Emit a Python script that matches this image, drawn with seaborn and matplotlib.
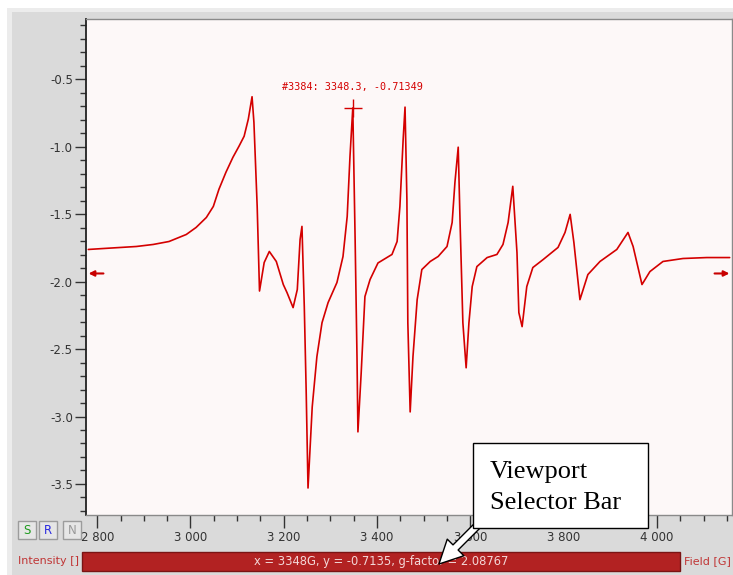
import numpy as np
import pandas as pd
import seaborn as sns
import matplotlib.pyplot as plt
import matplotlib.transforms as mtransforms
from matplotlib.patches import Rectangle, FancyArrowPatch, ArrowStyle
from matplotlib.ticker import MultipleLocator, FuncFormatter

### Spectrum (field in G, intensity)
field = [2781, 2813, 2884, 2920, 2954, 2991, 3012, 3034, 3049, 3061,
         3076, 3091, 3104, 3115, 3124, 3132, 3136, 3143, 3148, 3158,
         3169, 3184, 3199, 3207, 3220, 3229, 3235, 3239, 3244, 3248,
         3252, 3261, 3271, 3282, 3295, 3314, 3327, 3336, 3342, 3348,
         3353, 3357, 3359, 3366, 3374, 3385, 3402, 3432, 3443, 3449,
         3456, 3460, 3464, 3466, 3471, 3477, 3486, 3496, 3514, 3531,
         3550, 3561, 3567, 3574, 3578, 3584, 3591, 3597, 3604, 3614,
         3636, 3657, 3670, 3681, 3691, 3700, 3704, 3711, 3721, 3734,
         3756, 3788, 3803, 3814, 3822, 3835, 3852, 3878, 3914, 3938,
         3949, 3968, 3985, 4013, 4056, 4107, 4156]
intensity = [-1.762, -1.755, -1.740, -1.725, -1.703, -1.651, -1.599, -1.525, -1.443, -1.316,
             -1.190, -1.079, -0.997, -0.923, -0.796, -0.630, -0.819, -1.443, -2.070, -1.859,
             -1.777, -1.851, -2.022, -2.082, -2.193, -2.059, -1.688, -1.591, -2.186, -2.802,
             -3.530, -2.929, -2.557, -2.305, -2.156, -2.007, -1.814, -1.517, -1.071, -0.713,
             -1.688, -2.557, -3.114, -2.676, -2.111, -1.985, -1.862, -1.799, -1.703, -1.443,
             -0.945, -0.707, -1.391, -2.305, -2.966, -2.557, -2.134, -1.911, -1.851, -1.814,
             -1.740, -1.562, -1.264, -1.004, -1.562, -2.305, -2.639, -2.305, -2.037, -1.889,
             -1.822, -1.799, -1.725, -1.562, -1.294, -1.785, -2.230, -2.334, -2.037, -1.896,
             -1.837, -1.747, -1.636, -1.502, -1.710, -2.134, -1.948, -1.851, -1.762, -1.636,
             -1.740, -2.022, -1.926, -1.851, -1.829, -1.822, -1.822]

## Cursor readout and status bar
cursor_index = 3384
cursor_field = 3348.3
cursor_value = -0.71349
status_text = "x = 3348G, y = -0.7135, g-factor = 2.08767"
x_label = "Field [G]"
y_label = "Intensity []"
callout_lines = ["Viewport", "Selector Bar"]
baseline_level = -1.94

W, H = 733, 575
def fx(px):
    return px / W
def fy(py):
    return 1 - py / H

sns.set_style("white")
plt.rcParams['font.family'] = ['DejaVu Sans']
plt.rcParams['axes.unicode_minus'] = False

fig = plt.figure(figsize=(W / 100, H / 100), dpi=100, facecolor='#dadada')

## window frame
fig.add_artist(Rectangle((0, fy(8)), 1, 1 - fy(8), transform=fig.transFigure,
                         facecolor='white', edgecolor='none', zorder=0))
fig.add_artist(Rectangle((0, 0), fx(7), 1, transform=fig.transFigure,
                         facecolor='white', edgecolor='none', zorder=0))
fig.add_artist(Rectangle((fx(7), fy(12)), 1, fy(8) - fy(12), transform=fig.transFigure,
                         facecolor='#ececec', edgecolor='none', zorder=0))
fig.add_artist(Rectangle((fx(7), 0), fx(5), fy(8), transform=fig.transFigure,
                         facecolor='#ececec', edgecolor='none', zorder=0))

## main plot
ax = fig.add_axes([fx(86), fy(515), fx(732) - fx(86), fy(19) - fy(515)])
ax.set_facecolor('#fdf8f8')
sns.lineplot(x=field, y=intensity, ax=ax, color='#d40000', lw=1.2,
             estimator=None, sort=False)
ax.set_xlim(2776, 4161)
ax.set_ylim(-3.73, -0.054)
ax.set_xlabel('')
ax.set_ylabel('')

for side in ['top', 'right', 'bottom']:
    ax.spines[side].set_color('#8a8a8a')
    ax.spines[side].set_linewidth(1.0)
ax.spines['left'].set_color('#222222')
ax.spines['left'].set_linewidth(1.3)

ax.xaxis.set_major_locator(MultipleLocator(200))
ax.xaxis.set_minor_locator(MultipleLocator(50))
ax.xaxis.set_major_formatter(FuncFormatter(lambda v, p: f"{int(v):,}".replace(',', ' ')))
ax.yaxis.set_major_locator(MultipleLocator(0.5))
ax.yaxis.set_minor_locator(MultipleLocator(0.1))
ax.yaxis.set_major_formatter(FuncFormatter(lambda v, p: f"{v:.1f}"))

ax.tick_params(axis='both', which='both', direction='out', color='#333333', width=1,
               labelsize=8.5, labelcolor='#333333')
ax.tick_params(axis='y', which='major', length=8, pad=1.5, left=True)
ax.tick_params(axis='y', which='minor', length=4.3, left=True)
ax.tick_params(axis='x', which='major', length=9, pad=2.5, bottom=True)
ax.tick_params(axis='x', which='minor', length=4.5, bottom=True)

## cursor marker and readout
ax.plot([cursor_field], [cursor_value], marker='+', ms=13, mew=1, color='#d40000')
ax.annotate(f"#{cursor_index}: {cursor_field}, {cursor_value}",
            xy=(cursor_field, cursor_value), xytext=(0, 21), textcoords='offset pixels',
            ha='center', va='center', fontsize=7.3, color='#d40000',
            family='DejaVu Sans Mono')

## baseline arrows at both edges
trans = mtransforms.blended_transform_factory(ax.transAxes, ax.transData)
ax.annotate('', xy=(0.004, baseline_level), xytext=(0.027, baseline_level), xycoords=trans,
            textcoords=trans,
            arrowprops=dict(arrowstyle='-|>', color='#c80000', lw=1.5, mutation_scale=8,
                            shrinkA=0, shrinkB=0))
ax.annotate('', xy=(0.996, baseline_level), xytext=(0.973, baseline_level), xycoords=trans,
            textcoords=trans,
            arrowprops=dict(arrowstyle='-|>', color='#c80000', lw=1.5, mutation_scale=8,
                            shrinkA=0, shrinkB=0))

## S / R / N buttons
buttons = [("S", 18, '#1f9a1f'), ("R", 39, '#2a2ae0'), ("N", 63, '#9a9a9a')]
for label, left, col in buttons:
    fig.add_artist(Rectangle((fx(left), fy(539)), fx(18), fy(521) - fy(539),
                             transform=fig.transFigure, facecolor='#e6e6e6',
                             edgecolor='#9c9c9c', lw=1, zorder=2))
    fig.text(fx(left + 9), fy(530), label, color=col, fontsize=8.5,
             ha='center', va='center', zorder=3)

## status bar
fig.add_artist(Rectangle((fx(82), fy(571)), fx(680) - fx(82), fy(552) - fy(571),
                         transform=fig.transFigure, facecolor='#b22222',
                         edgecolor='#7a1414', lw=1, zorder=2))
fig.text(fx(381), fy(561), status_text, color='#f3d8d8', fontsize=8.3,
         ha='center', va='center', zorder=3)
fig.text(fx(18), fy(561), y_label, color='#c03535', fontsize=8,
         ha='left', va='center', zorder=3)
fig.text(fx(684), fy(561), x_label, color='#c03535', fontsize=8,
         ha='left', va='center', zorder=3)

## callout
arrow = FancyArrowPatch((fx(481), fy(522)), (fx(437), fy(566)),
                        transform=fig.transFigure,
                        arrowstyle=ArrowStyle.Simple(head_length=1.3, head_width=1.3,
                                                     tail_width=0.4),
                        mutation_scale=13, facecolor='white', edgecolor='black',
                        lw=1, zorder=4)
fig.add_artist(arrow)
fig.add_artist(Rectangle((fx(473), fy(528)), fx(648) - fx(473), fy(443) - fy(528),
                         transform=fig.transFigure, facecolor='white',
                         edgecolor='black', lw=1, zorder=5))
fig.text(fx(490), fy(478), callout_lines[0], family='Liberation Serif', fontsize=19,
         ha='left', va='baseline', color='black', zorder=6)
fig.text(fx(490), fy(509), callout_lines[1], family='Liberation Serif', fontsize=19,
         ha='left', va='baseline', color='black', zorder=6)

fig.savefig('out.png', dpi=100, facecolor=fig.get_facecolor())
